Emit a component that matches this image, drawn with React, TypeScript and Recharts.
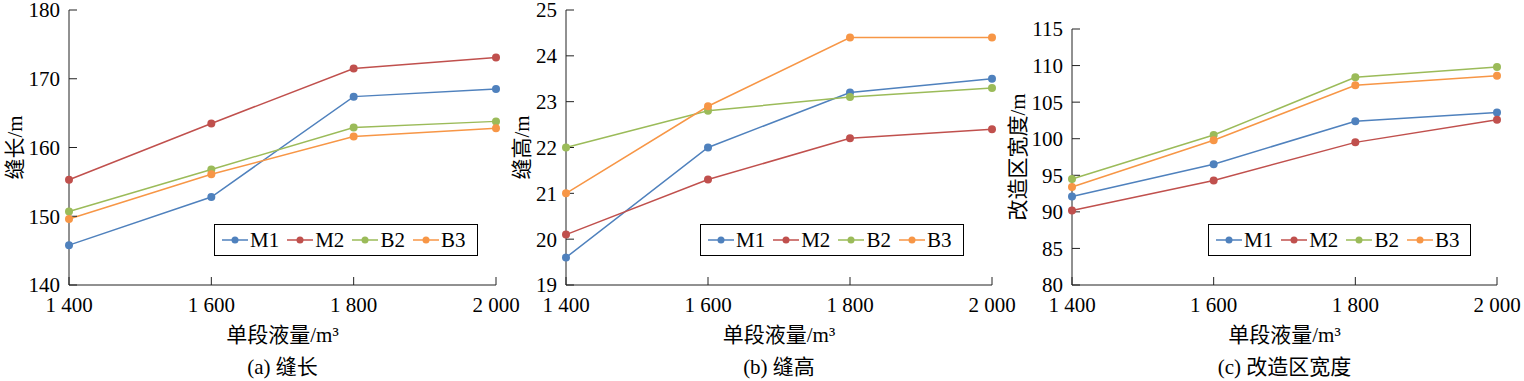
import React from 'react';
import { LineChart, Line, XAxis, YAxis } from 'recharts';

const volumes = [1400, 1600, 1800, 2000];
const seriesNames = ['M1', 'M2', 'B2', 'B3'];
const seriesColors = ['#4F81BD', '#C0504D', '#9BBB59', '#F79646'];

const lengthM1 = [145.8, 152.8, 167.4, 168.5];
const lengthM2 = [155.3, 163.5, 171.5, 173.1];
const lengthB2 = [150.7, 156.8, 162.9, 163.8];
const lengthB3 = [149.6, 156.1, 161.6, 162.8];

const heightM1 = [19.6, 22.0, 23.2, 23.5];
const heightM2 = [20.1, 21.3, 22.2, 22.4];
const heightB2 = [22.0, 22.8, 23.1, 23.3];
const heightB3 = [21.0, 22.9, 24.4, 24.4];

const widthM1 = [92.1, 96.5, 102.4, 103.6];
const widthM2 = [90.2, 94.3, 99.5, 102.6];
const widthB2 = [94.5, 100.5, 108.4, 109.8];
const widthB3 = [93.4, 99.8, 107.3, 108.6];

const lengthTicks = [140, 150, 160, 170, 180];
const heightTicks = [19, 20, 21, 22, 23, 24, 25];
const widthTicks = [80, 85, 90, 95, 100, 105, 110, 115];

const xTitle = '单段液量/m³';

const FONT = '"Liberation Serif", "Times New Roman", "Noto Sans CJK SC", serif';
const FS = 21;

const buildRows = (arrs: number[][]) =>
  volumes.map((v, i) => {
    const row: Record<string, number> = { volume: v };
    seriesNames.forEach((n, k) => {
      row[n] = arrs[k][i];
    });
    return row;
  });

const panels = [
  {
    left: 0, width: 530, top: 10, right: 34, yWidth: 69,
    rows: buildRows([lengthM1, lengthM2, lengthB2, lengthB3]),
    ticks: lengthTicks, yTitle: '缝长/m', caption: '(a) 缝长',
    yTitleX: 15, legendLeft: 214, legendWidth: 264,
  },
  {
    left: 510, width: 530, top: 10, right: 48, yWidth: 56,
    rows: buildRows([heightM1, heightM2, heightB2, heightB3]),
    ticks: heightTicks, yTitle: '缝高/m', caption: '(b) 缝高',
    yTitleX: 522, legendLeft: 700, legendWidth: 264,
  },
  {
    left: 1010, width: 514, top: 29, right: 27, yWidth: 62,
    rows: buildRows([widthM1, widthM2, widthB2, widthB3]),
    ticks: widthTicks, yTitle: '改造区宽度/m', caption: '(c) 改造区宽度',
    yTitleX: 1018, legendLeft: 1208, legendWidth: 263,
  },
];

const fmtX = (v: number) => String(v).replace(/(\d)(\d{3})$/, '$1 $2');

const AXIS = '#222';

export default function App() {
  return (
    <div
      style={{
        position: 'absolute', left: 0, top: 0, width: 1524, height: 381,
        background: '#fff', fontFamily: FONT, overflow: 'hidden',
      }}
    >
      {panels.map((p, pi) => {
        const plotLeft = p.left + p.yWidth;
        const plotRight = p.left + p.width - p.right;
        const plotCx = (plotLeft + plotRight) / 2;
        const plotCy = (p.top + 285) / 2;
        return (
          <React.Fragment key={pi}>
            <div style={{ position: 'absolute', left: p.left, top: 0 }}>
              <LineChart
                width={p.width}
                height={381}
                data={p.rows}
                margin={{ top: p.top, right: p.right, bottom: 0, left: 0 }}
              >
                <XAxis
                  dataKey="volume"
                  type="number"
                  domain={[1400, 2000]}
                  ticks={volumes}
                  tickFormatter={fmtX}
                  height={96}
                  tickSize={-8}
                  tickMargin={20}
                  interval={0}
                  axisLine={{ stroke: AXIS, strokeWidth: 1 }}
                  tickLine={{ stroke: AXIS, strokeWidth: 1 }}
                  tick={{ fill: '#000', fontSize: FS, fontFamily: FONT }}
                />
                <YAxis
                  type="number"
                  domain={[p.ticks[0], p.ticks[p.ticks.length - 1]]}
                  ticks={p.ticks}
                  width={p.yWidth}
                  tickSize={-8}
                  tickMargin={17}
                  interval={0}
                  axisLine={{ stroke: AXIS, strokeWidth: 1 }}
                  tickLine={{ stroke: AXIS, strokeWidth: 1 }}
                  tick={{ fill: '#000', fontSize: FS, fontFamily: FONT }}
                />
                {seriesNames.map((n, k) => (
                  <Line
                    key={n}
                    dataKey={n}
                    type="linear"
                    stroke={seriesColors[k]}
                    strokeWidth={1.5}
                    dot={{ r: 4, fill: seriesColors[k], stroke: seriesColors[k], strokeWidth: 0 }}
                    isAnimationActive={false}
                  />
                ))}
              </LineChart>
            </div>
            <svg
              width={1524}
              height={381}
              style={{ position: 'absolute', left: 0, top: 0, pointerEvents: 'none' }}
            >
              <text
                x={p.yTitleX}
                y={plotCy}
                fontSize={FS}
                fontFamily={FONT}
                fill="#000"
                textAnchor="middle"
                dominantBaseline="central"
                transform={`rotate(-90 ${p.yTitleX} ${plotCy})`}
              >
                {p.yTitle}
              </text>
              <text
                x={plotCx}
                y={335}
                fontSize={FS}
                fontFamily={FONT}
                fill="#000"
                textAnchor="middle"
                dominantBaseline="central"
              >
                {xTitle}
              </text>
              <text
                x={plotCx}
                y={367}
                fontSize={FS}
                fontFamily={FONT}
                fill="#000"
                textAnchor="middle"
                dominantBaseline="central"
              >
                {p.caption}
              </text>
            </svg>
            <div
              style={{
                position: 'absolute', left: p.legendLeft, top: 224,
                width: p.legendWidth, height: 32, boxSizing: 'border-box',
                border: '1px solid #000', background: '#fff',
                display: 'flex', alignItems: 'center', paddingLeft: 7,
              }}
            >
              {seriesNames.map((n, k) => (
                <div key={n} style={{ display: 'flex', alignItems: 'center', marginRight: 8 }}>
                  <svg width={26} height={10}>
                    <line x1={0} y1={5} x2={26} y2={5} stroke={seriesColors[k]} strokeWidth={1.5} />
                    <circle cx={13} cy={5} r={3.5} fill={seriesColors[k]} />
                  </svg>
                  <span style={{ fontSize: FS, lineHeight: '1', marginLeft: 2, color: '#000' }}>{n}</span>
                </div>
              ))}
            </div>
          </React.Fragment>
        );
      })}
    </div>
  );
}
